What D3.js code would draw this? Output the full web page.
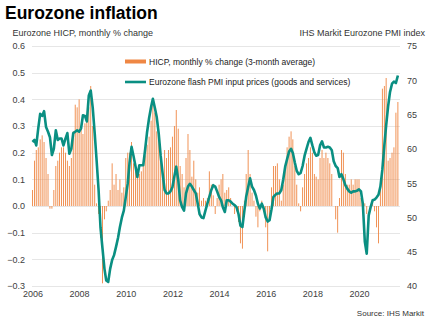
<!DOCTYPE html>
<html>
<head>
<meta charset="utf-8">
<script src="https://cdn.jsdelivr.net/npm/d3@7"></script>
<style>
  body { margin: 0; background: #fff; }
  svg { display: block; font-family: "Liberation Sans", Arial, sans-serif; }
</style>
</head>
<body>
<div id="chart"></div>
<script>
// monthly series, first value is Jan 2006
const startYear = 2006;

// HICP, monthly % change (3-month average)
const hicp = [
  0.06, 0.17, 0.21, 0.22, 0.25, 0.265, 0.24, 0.18, 0.12, -0.01, -0.01, 0.06,   // 2006
  0.15, 0.17, 0.20, 0.22, 0.22, 0.20, 0.17, 0.15, 0.18, 0.28, 0.38, 0.37,      // 2007
  0.40, 0.30, 0.27, 0.31, 0.32, 0.37, 0.45, 0.30, 0.08, 0.01, -0.03, -0.12,    // 2008
  -0.29, -0.05, -0.02, 0.02, 0.06, 0.16, 0.08, 0.12, 0.06, 0.10, 0.05, 0.07,   // 2009
  0.18, 0.20, 0.20, 0.24, 0.16, 0.13, 0.11, 0.12, 0.13, 0.15, 0.19, 0.23,      // 2010
  0.26, 0.32, 0.39, 0.35, 0.28, 0.25, 0.18, 0.12, 0.21, 0.18, 0.21, 0.22,      // 2011
  0.26, 0.30, 0.36, 0.29, 0.15, 0.12, 0.07, 0.18, 0.27, 0.21, 0.11, 0.17,      // 2012
  0.10, 0.05, 0.07, 0.02, 0.03, 0.02, 0.03, 0.13, 0.08, 0.04, -0.03, 0.03,     // 2013
  0.08, 0.10, 0.12, 0.05, 0.06, 0.07, 0.03, 0.00, -0.03, -0.02, -0.06, -0.14,  // 2014
  -0.16, 0.02, 0.12, 0.21, 0.12, 0.05, 0.02, -0.04, -0.08, -0.02, 0.02, -0.02, // 2015
  -0.08, -0.17, -0.05, 0.07, 0.15, 0.15, 0.16, 0.10, 0.02, 0.08, 0.15, 0.22,   // 2016
  0.26, 0.28, 0.25, 0.15, 0.08, 0.01, -0.02, 0.07, 0.12, 0.16, 0.18, 0.22,     // 2017
  0.20, 0.12, 0.11, 0.10, 0.18, 0.21, 0.18, 0.20, 0.18, 0.16, 0.12, 0.00,      // 2018
  -0.05, -0.10, 0.03, 0.21, 0.20, 0.12, 0.08, 0.08, 0.10, 0.08, 0.10, 0.10,    // 2019
  0.10, 0.03, 0.00, 0.01, -0.03, 0.00, 0.00, 0.015, -0.02, -0.08, -0.14, 0.06, // 2020
  0.44, 0.45, 0.48, 0.17, 0.18, 0.20, 0.22, 0.35, 0.39                         // 2021
];

// Eurozone flash PMI input prices (goods and services)
const pmi = [
  61.0, 61.3, 60.5, 63.0, 65.1, 64.8, 65.5, 63.2, 62.5, 61.7, 59.1, 60.0, // 2006
  62.7, 61.3, 61.5, 61.5, 60.5, 61.5, 62.3, 59.3, 60.0, 62.3, 62.5, 62.7, // 2007
  62.5, 63.0, 64.9, 64.8, 64.0, 67.8, 68.5, 66.0, 62.3, 58.3, 54.0, 48.5, // 2008
  45.5, 42.5, 40.8, 40.6, 42.5, 43.8, 44.5, 45.7, 47.0, 48.6, 50.0, 51.0, // 2009
  53.0, 55.0, 58.0, 60.3, 59.0, 57.5, 55.9, 57.6, 57.6, 57.6, 60.0, 62.5, // 2010
  64.5, 66.1, 67.3, 66.0, 64.6, 62.2, 59.0, 56.4, 54.0, 53.5, 53.5, 53.8, // 2011
  54.4, 56.0, 57.4, 55.5, 52.5, 51.5, 51.0, 53.5, 54.5, 54.9, 54.5, 54.0, // 2012
  53.5, 52.0, 50.5, 50.0, 49.9, 51.0, 52.0, 53.0, 54.0, 54.7, 54.5, 53.8, // 2013
  53.0, 52.5, 51.5, 50.8, 52.5, 52.5, 52.3, 52.0, 51.8, 51.5, 50.5, 48.8, // 2014
  48.6, 51.0, 53.0, 54.4, 55.7, 54.5, 54.0, 53.2, 52.0, 51.3, 52.0, 51.3, // 2015
  50.0, 49.4, 49.6, 51.2, 53.0, 53.3, 53.5, 53.5, 54.0, 55.5, 57.4, 58.5, // 2016
  59.6, 60.0, 59.4, 58.0, 56.8, 56.3, 56.5, 57.5, 59.0, 60.0, 61.0, 61.6, // 2017
  60.5, 59.5, 59.0, 59.1, 60.5, 61.1, 60.2, 60.2, 60.3, 60.2, 59.8, 58.2, // 2018
  57.5, 57.2, 55.9, 56.3, 55.6, 54.7, 54.2, 53.8, 53.6, 53.8, 53.8, 53.9, // 2019
  54.1, 53.8, 52.0, 46.5, 44.7, 50.3, 51.5, 52.5, 52.6, 52.9, 53.3, 54.5, // 2020
  57.0, 60.5, 63.4, 66.2, 68.3, 69.5, 69.8, 69.6, 70.7                    // 2021
];

const yearTicks = [2006, 2008, 2010, 2012, 2014, 2016, 2018, 2020];
const leftTicks = [-0.3, -0.2, -0.1, 0.0, 0.1, 0.2, 0.3, 0.4, 0.5, 0.6];
const rightTicks = [40, 45, 50, 55, 60, 65, 70, 75];

const orange = '#ef8744';
const teal = '#0a8f82';

function renderChart() {
    const width = 434;
    const height = 322;
    const plot = { left: 32, right: 400, top: 46, bottom: 286 };

    const svg = d3.select('#chart')
        .append('svg')
        .attr('width', width)
        .attr('height', height);

    const months = hicp.map((d, i) => new Date(startYear + Math.floor(i / 12), i % 12, 1));

    const xScale = d3.scaleTime()
        .domain([new Date(2006, 0, 1), new Date(2020, 0, 1)])
        .range([32.5, 359]);

    const yLeft = d3.scaleLinear().domain([-0.3, 0.6]).range([plot.bottom, plot.top]);
    const yRight = d3.scaleLinear().domain([40, 75]).range([plot.bottom, plot.top]);

    // horizontal gridlines
    svg.append('g')
        .selectAll('line')
        .data(leftTicks)
        .join('line')
        .attr('x1', plot.left)
        .attr('x2', plot.right)
        .attr('y1', d => Math.round(yLeft(d)) + 0.5)
        .attr('y2', d => Math.round(yLeft(d)) + 0.5)
        .attr('stroke', '#e6e6e6')
        .attr('stroke-width', 1);

    // left axis
    const leftAxis = svg.append('g')
        .attr('transform', 'translate(25, 0)')
        .call(d3.axisLeft(yLeft).tickValues(leftTicks).tickFormat(d3.format('.1f')).tickSize(0).tickPadding(0));
    leftAxis.select('.domain').remove();

    // right axis
    const rightAxis = svg.append('g')
        .attr('transform', 'translate(407, 0)')
        .call(d3.axisRight(yRight).tickValues(rightTicks).tickSize(0).tickPadding(0));
    rightAxis.select('.domain').remove();

    // x axis labels
    const xAxis = svg.append('g')
        .attr('transform', `translate(0, ${plot.bottom + 5})`)
        .call(d3.axisBottom(xScale).tickValues(yearTicks.map(y => new Date(y, 0, 1)))
            .tickFormat(d3.timeFormat('%Y')).tickSize(0).tickPadding(0));
    xAxis.select('.domain').remove();

    svg.selectAll('.tick text')
        .attr('fill', '#404040')
        .style('font-size', '9px');

    // HICP bars
    svg.append('g')
        .selectAll('rect')
        .data(hicp)
        .join('rect')
        .attr('x', (d, i) => xScale(months[i]) - 0.45)
        .attr('width', 0.9)
        .attr('y', d => yLeft(Math.max(0, d)))
        .attr('height', d => Math.abs(yLeft(d) - yLeft(0)))
        .attr('fill', orange);

    // PMI line
    const line = d3.line()
        .x((d, i) => xScale(months[i]))
        .y(d => yRight(d));

    svg.append('path')
        .datum(pmi)
        .attr('d', line)
        .attr('fill', 'none')
        .attr('stroke', teal)
        .attr('stroke-width', 2.6)
        .attr('stroke-linejoin', 'round');

    // legend
    const legend = svg.append('g').style('font-size', '8.5px').attr('fill', '#222');
    legend.append('rect')
        .attr('x', 125).attr('y', 59.5)
        .attr('width', 21).attr('height', 4)
        .attr('fill', orange);
    legend.append('text')
        .attr('x', 149).attr('y', 64.5)
        .text('HICP, monthly % change (3-month average)');
    legend.append('line')
        .attr('x1', 125).attr('x2', 146)
        .attr('y1', 82).attr('y2', 82)
        .attr('stroke', teal)
        .attr('stroke-width', 2.6);
    legend.append('text')
        .attr('x', 149).attr('y', 85)
        .text('Eurozone flash PMI input prices (goods and services)');

    // titles
    svg.append('text')
        .attr('x', 5)
        .attr('y', 18.5)
        .style('font-size', '17.5px')
        .style('font-weight', 'bold')
        .attr('fill', '#000')
        .text('Eurozone inflation');

    svg.append('text')
        .attr('x', 12.5)
        .attr('y', 36)
        .style('font-size', '9px')
        .attr('fill', '#333')
        .text('Eurozone HICP, monthly % change');

    svg.append('text')
        .attr('x', 425)
        .attr('y', 36)
        .attr('text-anchor', 'end')
        .style('font-size', '9px')
        .attr('fill', '#333')
        .text('IHS Markit Eurozone PMI index');

    svg.append('text')
        .attr('x', 424)
        .attr('y', 316)
        .attr('text-anchor', 'end')
        .style('font-size', '8px')
        .attr('fill', '#333')
        .text('Source: IHS Markit');
}

renderChart();
</script>
</body>
</html>
